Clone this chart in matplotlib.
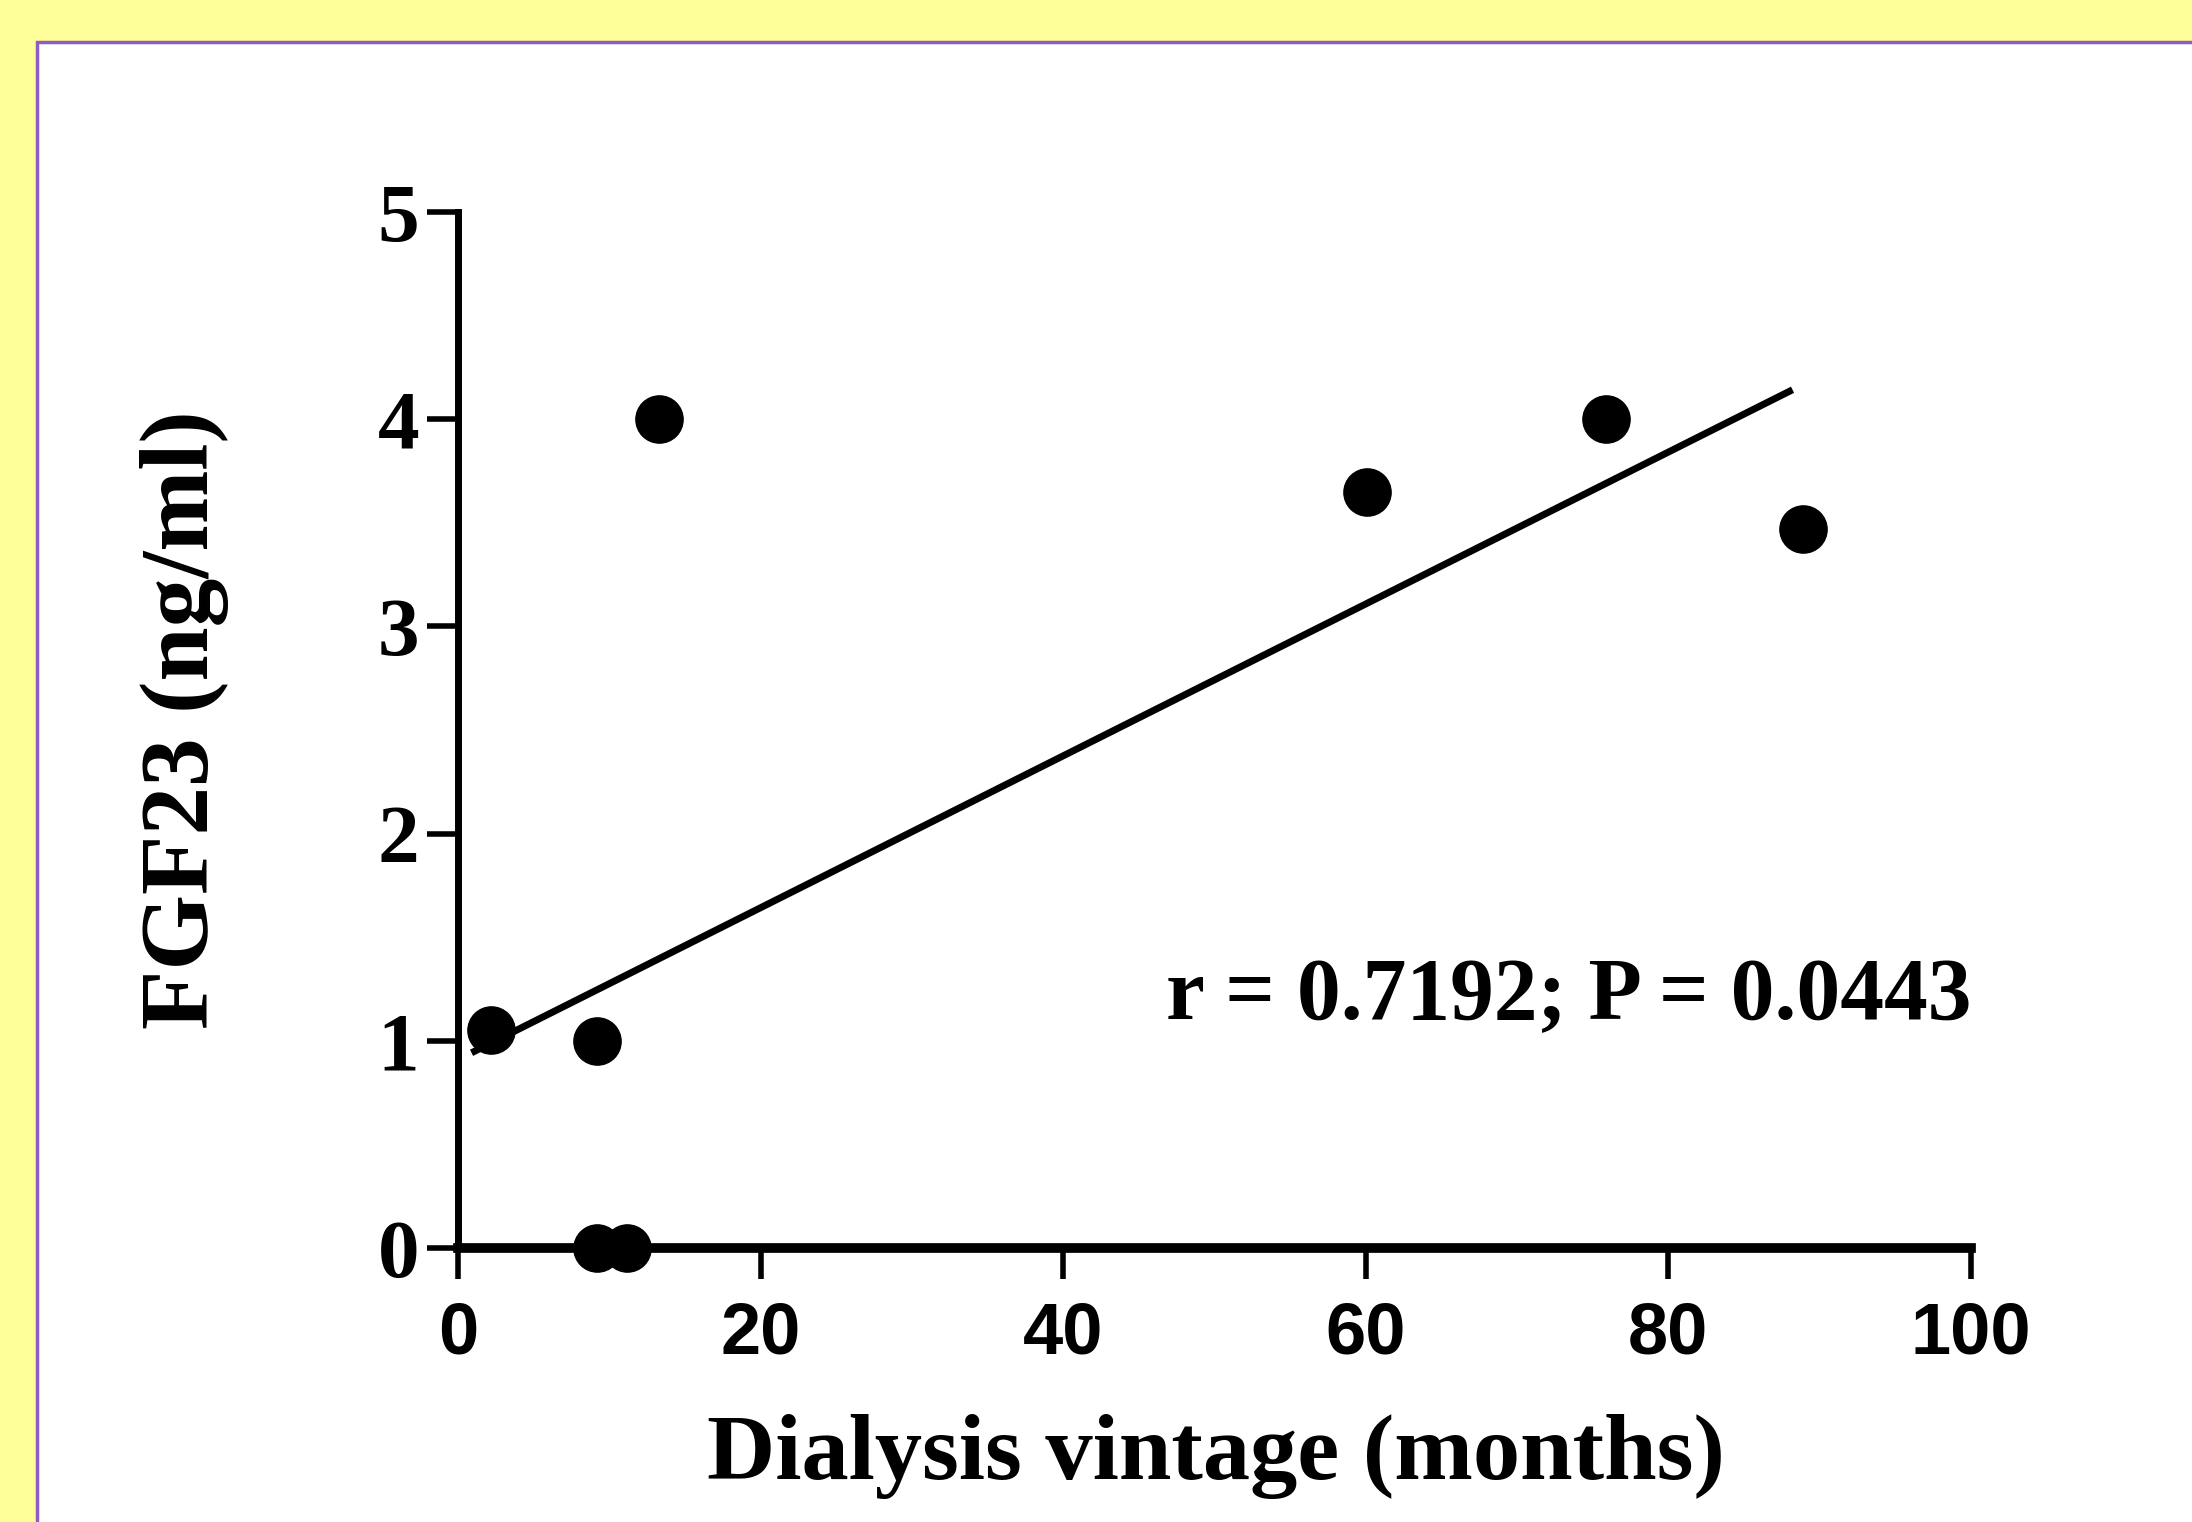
import numpy as np
import matplotlib.pyplot as plt
from matplotlib.patches import Rectangle

# dialysis vintage (months) vs FGF23 (ng/ml)
vintage = [2.2, 9.2, 9.2, 11.2, 13.3, 60.1, 75.9, 88.9]
fgf23 = [1.05, 1.0, 0.0, 0.0, 4.0, 3.65, 4.0, 3.47]

x_ticks = [0, 20, 40, 60, 80, 100]
y_ticks = [0, 1, 2, 3, 4, 5]
stats_text = "r = 0.7192; P = 0.0443"

serif = ["Liberation Serif", "DejaVu Serif"]
narrow = ["Liberation Sans Narrow", "Liberation Sans", "DejaVu Sans"]

fig = plt.figure(figsize=(21.92, 15.22), dpi=100)
fig.patch.set_facecolor("#FFFF99")

# white panel with purple frame
panel = Rectangle((37 / 2192, -0.05), 1.2, 0.05 + 1 - 42 / 1522,
                  transform=fig.transFigure, facecolor="white",
                  edgecolor="#8E5CC4", linewidth=2.5, zorder=-10)
fig.patches.append(panel)

ax = fig.add_axes([458 / 2192, 1 - 1248 / 1522, 1513 / 2192, 1036 / 1522])
ax.set_facecolor("none")
ax.set_zorder(5)

ax.plot(vintage, fgf23, "o", color="black", markersize=34, zorder=3,
        clip_on=False)

slope, icpt = np.polyfit(vintage, fgf23, 1)
xs = np.array([1.1, 88.0])
ax.plot(xs, slope * xs + icpt, color="black", linewidth=5, zorder=2)

ax.set_xlim(0, 100)
ax.set_ylim(0, 5)
ax.set_xticks(x_ticks)
ax.set_yticks(y_ticks)

for s in ["top", "right"]:
    ax.spines[s].set_visible(False)
ax.spines["left"].set_linewidth(5)
ax.spines["bottom"].set_linewidth(7)
ax.tick_params(direction="out", length=22, width=4, color="black")
ax.tick_params(axis="x", pad=16)
ax.tick_params(axis="y", pad=6)

for lab in ax.get_xticklabels():
    lab.set_fontfamily(narrow)
    lab.set_fontweight("bold")
    lab.set_fontsize(52)
for lab in ax.get_yticklabels():
    lab.set_fontfamily(serif)
    lab.set_fontweight("bold")
    lab.set_fontsize(60)

ax.set_xlabel("Dialysis vintage (months)", fontfamily=serif,
              fontweight="bold", fontsize=68, va="center")
ax.xaxis.set_label_coords(0.501, -0.2017)
ax.set_ylabel("FGF23 (ng/ml)", fontfamily=serif, fontweight="bold",
              fontsize=70, va="center")
ax.yaxis.set_label_coords(-0.181, 0.5097)

ax.text(100, 1.21, stats_text, ha="right", va="center", fontfamily=serif,
        fontweight="bold", fontsize=63)

fig.savefig("out.png", dpi=100, facecolor=fig.get_facecolor())
